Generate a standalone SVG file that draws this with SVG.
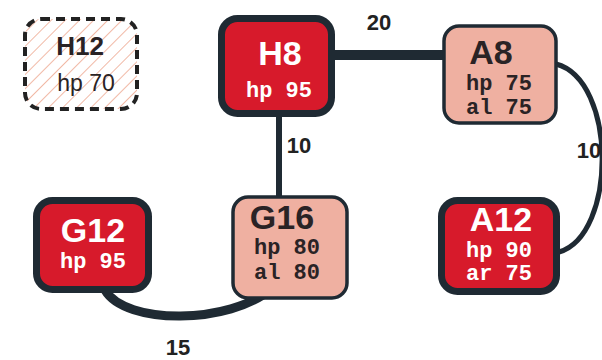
<svg xmlns="http://www.w3.org/2000/svg" width="602" height="360" viewBox="0 0 602 360">
<style>
.bg{fill:#ffffff}
.red{fill:#d71a2b;stroke:#1f2a33;stroke-width:7}
.pink{fill:#efb0a1;stroke:#1f2a33;stroke-width:3.5}
.ghost{fill:url(#hatch);stroke:#222;stroke-width:4;stroke-dasharray:9 6}
.edge{fill:none;stroke:#1f2a33;stroke-linecap:butt}
.title{font-family:"Liberation Sans",Arial,sans-serif;font-weight:bold;font-size:34px;text-anchor:middle}
.mono{font-family:"Liberation Mono","Courier New",monospace;font-weight:bold;font-size:22px;text-anchor:middle}
.w{fill:#ffffff}
.d{fill:#2a2325}
.lbl{font-family:"Liberation Sans",Arial,sans-serif;font-weight:bold;font-size:22px;fill:#222;text-anchor:middle}
</style>
<defs>
<pattern id="hatch" width="10" height="10" patternUnits="userSpaceOnUse" patternTransform="rotate(45)">
<rect width="10" height="10" fill="#ffffff"/>
<line x1="0" y1="0" x2="0" y2="10" stroke="#f1b9a6" stroke-width="2"/>
</pattern>
</defs>
<rect class="bg" x="0" y="0" width="602" height="360"/>
<g id="connectors">
<line class="edge" x1="333" y1="55" x2="445" y2="55" stroke-width="10"/>
<line class="edge" x1="279" y1="114" x2="279" y2="198" stroke-width="6"/>
<path class="edge" d="M105,290 C125,325 230,325 272,288" stroke-width="9"/>
<path class="edge" d="M556,64 C617,80 617,235 559,252" stroke-width="5"/>
<text class="lbl" x="379" y="30">20</text>
<text class="lbl" x="299" y="153">10</text>
<text class="lbl" x="589" y="158">10</text>
<text class="lbl" x="178" y="355">15</text>
</g>
<g id="H12">
<rect class="ghost" x="25" y="19" width="112" height="90" rx="16"/>
<text class="d" x="80" y="55" font-family="Liberation Sans,Arial,sans-serif" font-weight="bold" font-size="26" text-anchor="middle">H12</text>
<text class="d" x="86" y="91" font-family="Liberation Sans,Arial,sans-serif" font-size="23" text-anchor="middle">hp 70</text>
</g>
<g id="H8">
<rect class="red" x="221.5" y="18.5" width="110" height="95" rx="16"/>
<text class="title w" x="280" y="65">H8</text>
<text class="mono w" x="279" y="97">hp 95</text>
</g>
<g id="A8">
<rect class="pink" x="444" y="26" width="112" height="97" rx="15"/>
<text class="title d" x="491" y="64">A8</text>
<text class="mono d" x="499" y="90">hp 75</text>
<text class="mono d" x="499" y="114">al 75</text>
</g>
<g id="G16">
<rect class="pink" x="233" y="197" width="114" height="101" rx="15"/>
<text class="title d" x="282" y="229">G16</text>
<text class="mono d" x="287" y="254">hp 80</text>
<text class="mono d" x="287" y="279">al 80</text>
</g>
<g id="G12">
<rect class="red" x="36.5" y="200.5" width="112" height="89" rx="16"/>
<text class="title w" x="93" y="242">G12</text>
<text class="mono w" x="93" y="268">hp 95</text>
</g>
<g id="A12">
<rect class="red" x="441.5" y="200.5" width="115" height="91" rx="16"/>
<text class="title w" x="501" y="231">A12</text>
<text class="mono w" x="499" y="257">hp 90</text>
<text class="mono w" x="499" y="280">ar 75</text>
</g>
</svg>
